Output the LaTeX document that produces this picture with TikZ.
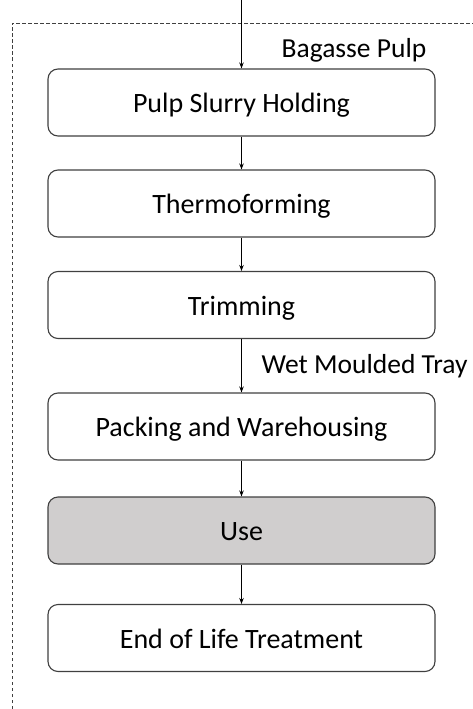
\documentclass[tikz,border=0pt]{standalone}
\usepackage{fontspec}
\setmainfont{Carlito}
\usetikzlibrary{arrows.meta}
\definecolor{edge}{HTML}{404040}
\definecolor{usefill}{HTML}{D0CECE}
\tikzset{
  stage/.style={draw=edge, line width=1.1pt, rounded corners=10pt, fill=white,
    minimum width=387pt, minimum height=67pt, inner sep=0pt,
    text height=20pt, text depth=0pt,
    font=\fontsize{28}{33}\selectfont, text=black},
  flow/.style={draw=black, line width=1pt, -{Stealth[length=6pt,width=4.5pt]}},
  frame/.style={draw=edge, line width=0.9pt, dash pattern=on 3.5pt off 2.5pt},
  tag/.style={anchor=base west, inner sep=0pt, font=\fontsize{27.5}{33}\selectfont, text=black}
}
\begin{document}
\begin{tikzpicture}[x=1pt,y=-1pt]
  \useasboundingbox (0,0) rectangle (473,709);
  % open system boundary
  \draw[frame] (12,709) -- (12,23) -- (473,23);
  % process stages
  \node[stage] (pulp) at (241.5,102.5) {Pulp Slurry Holding};
  \node[stage] (thermo) at (241.5,203.5) {Thermoforming};
  \node[stage] (trim) at (241.5,305) {Trimming};
  \node[stage] (pack) at (241.5,426.5) {Packing and Warehousing};
  \node[stage, fill=usefill] (use) at (241.5,530.5) {Use};
  \node[stage] (eol) at (241.5,638) {End of Life Treatment};
  % flows
  \coordinate (in) at (241.5,0);
  \draw[flow] (in) -- (pulp.north);
  \draw[flow] (pulp) -- (thermo);
  \draw[flow] (thermo) -- (trim);
  \draw[flow] (trim) -- (pack);
  \draw[flow] (pack) -- (use);
  \draw[flow] (use) -- (eol);
  % flow labels
  \node[tag] (bagasse) at (281.5,57) {Bagasse Pulp};
  \node[tag] (tray) at (261.5,373) {Wet Moulded Tray};
\end{tikzpicture}
\end{document}
